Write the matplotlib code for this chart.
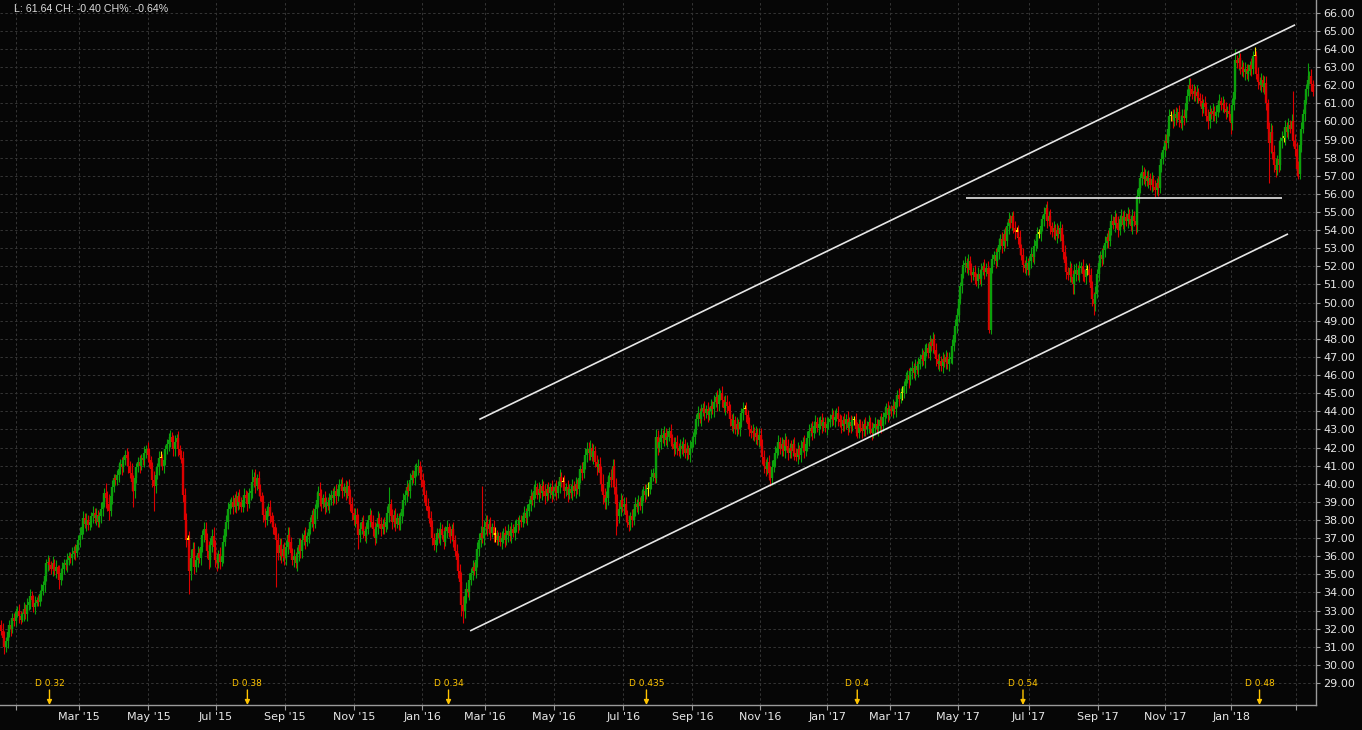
#!/usr/bin/env python3
"""
Daily candles Dec 2014 - Mar 2018 with trend channel and dividend markers
"""

import numpy as np
import pandas as pd
import matplotlib
matplotlib.use("Agg")
import matplotlib.pyplot as plt

# --- data ----------------------------------------------------------------
months = ["Dec '14", "Jan '15", "Feb '15", "Mar '15", "Apr '15", "May '15", "Jun '15",
          "Jul '15", "Aug '15", "Sep '15", "Oct '15", "Nov '15", "Dec '15",
          "Jan '16", "Feb '16", "Mar '16", "Apr '16", "May '16", "Jun '16",
          "Jul '16", "Aug '16", "Sep '16", "Oct '16", "Nov '16", "Dec '16",
          "Jan '17", "Feb '17", "Mar '17", "Apr '17", "May '17", "Jun '17",
          "Jul '17", "Aug '17", "Sep '17", "Oct '17", "Nov '17", "Dec '17",
          "Jan '18", "Feb '18", "Mar '18"]

# daily closes, one list per month
closes = [
    [31.9, 31.5, 31.0, 31.3, 31.8, 32.2, 32.0, 32.6, 32.4, 32.9],
    [33.0, 32.7, 32.5, 32.8, 33.1, 32.8, 33.3, 33.5, 33.8, 33.6, 33.2, 33.4, 33.6, 33.5, 33.9, 34.1, 34.4, 34.9, 35.6, 35.7],
    [35.5, 35.3, 35.6, 35.2, 35.4, 35.0, 34.7, 35.1, 35.3, 35.6, 35.5, 35.8, 36.0, 35.9, 36.1, 36.3, 36.2, 36.6, 36.9],
    [37.2, 37.6, 38.1, 37.8, 38.0, 37.7, 37.9, 38.2, 38.4, 38.1, 38.3, 37.9, 38.2, 38.6, 39.0, 39.5, 39.2, 38.9, 38.5, 39.3, 39.8, 40.3],
    [40.2, 40.5, 40.8, 41.1, 40.9, 41.3, 41.6, 41.4, 41.0, 40.6, 40.1, 39.6, 40.3, 40.9, 41.2, 41.0, 41.4, 41.3, 41.7, 41.9, 41.6],
    [41.3, 40.8, 40.2, 39.9, 40.5, 40.9, 41.4, 41.4, 41.0, 41.3, 41.9, 42.2, 42.4, 42.6, 42.3, 41.9, 42.3, 42.5, 41.9, 41.6],
    [41.4, 39.4, 38.0, 36.9, 36.9, 35.2, 35.9, 36.4, 35.4, 35.8, 36.2, 35.9, 36.5, 37.2, 37.5, 36.9, 36.3, 35.8, 36.6, 37.1, 36.5, 35.8],
    [35.6, 36.1, 35.7, 36.0, 36.8, 37.5, 37.9, 38.6, 38.9, 39.0, 38.7, 39.2, 38.8, 39.3, 39.0, 38.7, 39.1, 39.4, 39.2, 38.9, 39.5, 39.6],
    [40.1, 40.4, 39.9, 40.3, 39.7, 39.3, 39.0, 38.3, 38.0, 38.5, 38.7, 38.2, 37.9, 37.6, 37.2, 36.9, 36.2, 36.6, 36.0, 36.4, 35.9],
    [36.5, 37.2, 36.8, 36.2, 35.8, 36.0, 35.6, 36.1, 36.6, 36.3, 36.9, 37.2, 36.8, 37.1, 37.5, 37.9, 38.3, 37.8, 38.6, 39.1, 39.5],
    [39.3, 38.9, 39.2, 38.7, 39.0, 38.8, 39.1, 39.4, 39.2, 39.6, 39.3, 39.7, 39.9, 40.0, 39.6, 39.8, 39.5, 39.9, 39.3, 38.9, 38.4, 38.0],
    [38.3, 37.8, 37.2, 37.5, 37.9, 37.4, 37.1, 37.5, 38.0, 38.3, 37.9, 37.5, 37.0, 37.6, 38.1, 37.8, 37.5, 37.8, 37.6, 37.9],
    [38.4, 38.9, 38.2, 37.9, 38.3, 37.8, 38.1, 37.7, 38.2, 38.6, 39.1, 39.4, 39.8, 39.6, 40.2, 40.5, 40.3, 40.7, 40.9, 41.0, 40.6, 40.2],
    [39.8, 39.4, 38.8, 38.5, 38.1, 37.6, 37.0, 36.6, 36.9, 37.3, 37.0, 37.5, 37.2, 36.8, 37.4, 37.6, 37.3, 37.1, 37.5],
    [36.9, 36.3, 35.8, 35.2, 34.6, 33.3, 33.0, 33.8, 34.2, 34.0, 34.7, 35.1, 35.4, 35.2, 35.8, 36.4, 36.9, 37.3, 37.0, 37.6],
    [37.9, 37.5, 37.8, 37.3, 37.6, 37.2, 37.2, 36.9, 37.1, 36.8, 37.0, 37.3, 36.9, 37.2, 37.4, 37.1, 37.5, 37.3, 37.6, 37.8, 37.7, 38.0],
    [37.9, 38.2, 38.4, 38.1, 38.5, 38.9, 39.3, 39.1, 39.6, 39.8, 39.4, 39.7, 39.5, 39.9, 39.6, 39.3, 39.7, 39.5, 39.8, 39.4, 39.6],
    [39.8, 39.5, 39.9, 40.4, 40.1, 40.1, 39.6, 39.8, 39.4, 39.7, 39.5, 39.9, 39.6, 40.0, 39.7, 40.3, 40.8, 40.6, 41.2, 41.6, 41.9],
    [41.7, 42.0, 41.5, 41.8, 41.2, 40.9, 41.1, 40.6, 40.0, 39.4, 39.0, 39.2, 40.1, 40.4, 40.2, 41.0, 39.8, 38.9, 38.2, 38.6, 39.1, 38.7],
    [38.9, 38.3, 37.9, 37.7, 38.2, 38.0, 38.6, 38.9, 38.7, 39.0, 38.8, 39.3, 39.6, 39.4, 39.7, 39.7, 40.1, 40.4, 40.6, 40.3],
    [42.6, 42.0, 42.3, 42.7, 42.5, 42.8, 42.4, 42.6, 42.9, 42.5, 42.2, 41.9, 42.3, 42.0, 41.8, 42.1, 41.9, 42.2, 41.7, 41.9, 41.6, 42.0, 42.3],
    [42.6, 43.0, 43.6, 43.9, 43.6, 44.0, 44.2, 43.9, 44.1, 43.8, 44.0, 44.3, 44.1, 44.5, 44.8, 44.4, 44.9, 45.0, 44.6, 44.2, 44.5],
    [44.3, 44.0, 43.6, 43.2, 43.5, 43.0, 43.3, 43.0, 43.4, 43.9, 44.1, 44.1, 43.8, 43.3, 43.0, 42.8, 42.9, 42.6, 42.8, 42.4, 42.7],
    [42.1, 41.5, 41.0, 40.8, 41.2, 40.6, 40.3, 40.9, 41.3, 41.7, 42.0, 42.3, 41.9, 42.2, 41.8, 42.4, 42.1, 41.7, 42.0, 41.8, 42.2],
    [41.7, 41.5, 41.9, 41.6, 42.0, 42.3, 41.8, 42.2, 42.5, 42.9, 43.1, 42.8, 43.2, 43.4, 43.1, 43.3, 43.5, 43.2, 43.4, 43.1, 43.3],
    [43.4, 43.6, 43.8, 43.5, 43.7, 43.9, 43.6, 43.4, 43.2, 43.5, 43.3, 43.6, 43.1, 43.4, 43.2, 43.5, 43.5, 43.0, 42.8, 43.3],
    [43.1, 42.9, 43.3, 43.0, 43.2, 43.4, 43.0, 42.8, 43.1, 43.3, 43.0, 43.2, 43.5, 43.2, 43.7, 43.9, 44.2, 43.8, 44.1],
    [44.0, 44.3, 44.1, 44.5, 44.9, 44.7, 45.0, 45.0, 45.4, 45.8, 46.0, 45.7, 46.2, 46.4, 46.1, 46.5, 46.3, 46.6, 46.9, 47.1, 46.8, 47.3, 47.5],
    [47.2, 47.8, 47.6, 48.0, 47.4, 46.9, 46.6, 46.8, 46.5, 46.9, 46.7, 47.0, 46.6, 46.9, 47.0, 47.6, 48.2, 48.7, 49.3],
    [50.2, 50.9, 51.6, 52.1, 52.2, 51.9, 52.3, 51.8, 51.5, 51.7, 51.4, 51.2, 51.6, 51.3, 51.8, 52.0, 51.7, 51.9, 51.6, 48.5, 51.9, 52.4],
    [52.6, 52.3, 52.8, 53.2, 53.5, 53.1, 53.8, 53.4, 54.2, 54.6, 54.4, 54.8, 54.1, 53.9, 53.9, 53.6, 53.0, 52.6, 52.1, 51.9, 52.2, 51.8],
    [52.3, 52.7, 52.5, 53.1, 53.4, 53.8, 53.8, 54.2, 54.6, 54.9, 55.2, 54.5, 54.8, 54.2, 53.9, 54.1, 53.7, 54.0, 53.8, 54.1],
    [53.4, 52.8, 52.2, 51.7, 51.5, 51.9, 51.4, 51.0, 51.6, 51.8, 51.5, 51.9, 52.0, 51.6, 51.4, 51.8, 51.8, 51.5, 50.8, 50.2, 49.9, 50.5, 51.6],
    [52.2, 52.6, 52.4, 52.9, 53.3, 53.6, 53.4, 54.1, 54.5, 54.3, 54.7, 54.4, 54.0, 54.6, 54.8, 54.3, 54.7, 54.5, 54.9, 54.6],
    [54.2, 54.8, 54.5, 54.3, 55.9, 56.3, 56.9, 57.2, 56.8, 57.0, 56.7, 56.9, 56.5, 56.8, 56.4, 56.2, 56.6, 56.3, 57.6, 57.9, 58.4, 58.9],
    [58.8, 59.6, 60.3, 60.3, 60.0, 60.4, 60.2, 60.5, 60.1, 59.9, 60.3, 60.2, 61.0, 61.4, 62.0, 61.8, 61.5, 61.7, 61.4, 61.6, 61.3],
    [61.1, 60.7, 61.0, 60.8, 60.3, 60.0, 60.5, 60.4, 60.6, 60.3, 60.5, 60.9, 61.1, 60.9, 61.0, 60.7, 60.5, 60.6, 60.4, 59.9],
    [60.9, 61.6, 63.4, 63.2, 63.5, 62.9, 63.0, 62.7, 62.9, 62.6, 62.8, 63.1, 62.9, 63.6, 63.6, 62.6, 62.2, 62.0, 62.3, 61.9, 62.1],
    [61.0, 59.6, 58.8, 59.4, 58.3, 57.6, 57.3, 57.9, 57.6, 58.9, 59.1, 59.1, 59.7, 59.4, 59.8, 59.6, 60.0, 58.9, 58.5],
    [57.4, 57.1, 58.7, 59.6, 60.4, 61.2, 61.8, 62.3, 62.5, 62.04, 61.64],
]

# wick beyond the body, one digit per day (x 0.13 dollar)
wicks = [
    "23323 23222", "23213 23232 23122 32323", "22323 14232 23223 2322",
    "32323 22232 32233 24342 32", "22323 22332 43322 32232 3", "32343 23323 22332 33232",
    "23332 44332 32323 33433 43", "32323 23322 32323 22323 23", "32323 22332 23232 33332 3",
    "33322 32333 32323 22324 3", "43232 23232 32323 23233 32", "33432 32323 23323 23232",
    "34232 32223 32323 22323 23", "33232 33232 23232 3232", "32333 44332 32323 33323",
    "33232 33222 32323 23232 32", "22323 23233 23232 32323 2", "23232 23232 23232 32323 3",
    "33232 32334 33323 33443 32", "33232 32323 23232 32322", "23232 32323 23232 32323 232",
    "23232 32323 23232 33232 3", "32323 23232 32323 23232 3", "33332 33323 23232 32323 2",
    "32323 23233 23232 32322 3", "22323 23232 32323 22332", "23232 32323 23232 3232",
    "23232 32323 23232 32323 232", "23232 32323 23232 3233", "32323 23232 32323 23233 22",
    "23232 32323 23232 33232 32", "23232 32323 23232 32323", "23332 32343 23232 32333 332",
    "32323 23232 32323 23232", "23233 32323 23232 32323 23", "32323 23232 33232 32323 2",
    "23232 33232 32323 23233", "32323 23232 32323 23232 3", "32343 33232 32323 2323",
    "33232 32323 2",
]
first_open = 32.2

# long wicks: (month, day) -> (low, high)
extremes = {
    ("Apr '15", 11): (38.7, None), ("May '15", 3): (38.5, None), ("Jun '15", 5): (33.9, None),
    ("Aug '15", 0): (None, 40.8), ("Aug '15", 15): (34.3, None), ("Oct '15", 0): (None, 40.1),
    ("Nov '15", 2): (36.4, None), ("Dec '15", 1): (None, 39.8), ("Feb '16", 5): (32.7, None),
    ("Feb '16", 6): (32.3, None), ("Feb '16", 18): (None, 39.9), ("Jun '16", 1): (None, 42.4),
    ("Jun '16", 17): (37.2, None), ("Jul '16", 3): (37.4, None), ("Aug '16", 0): (None, 43.0),
    ("Sep '16", 17): (None, 45.2), ("Nov '16", 6): (39.9, None), ("Jan '17", 18): (42.5, None),
    ("Apr '17", 3): (None, 48.4), ("May '17", 19): (48.3, None), ("Jun '17", 11): (None, 55.0),
    ("Jul '17", 11): (None, 55.6), ("Aug '17", 7): (50.5, None), ("Aug '17", 20): (49.3, None),
    ("Oct '17", 3): (53.8, None), ("Nov '17", 14): (None, 62.4), ("Dec '17", 5): (59.6, None),
    ("Dec '17", 19): (59.3, None), ("Jan '18", 2): (None, 64.0), ("Jan '18", 14): (None, 64.1),
    ("Feb '18", 2): (56.6, None), ("Feb '18", 17): (None, 61.7), ("Mar '18", 1): (56.8, None),
    ("Mar '18", 7): (None, 63.2),
}

# dividend markers: (month, day, label)
dividends = [("Feb '15", 0, "D 0.32"), ("Jul '15", 19, "D 0.38"), ("Jan '16", 16, "D 0.34"),
             ("Jul '16", 14, "D 0.435"), ("Jan '17", 18, "D 0.4"), ("Jun '17", 18, "D 0.54"),
             ("Jan '18", 17, "D 0.48")]

# drawn lines: (bar, price) end points
channel_top = [(297.1, 43.55), (804.1, 65.33)]
channel_bottom = [(291.4, 31.88), (799.7, 53.79)]
resistance = [(599.6, 55.75), (795.8, 55.75)]

header = "L: 61.64 CH: -0.40 CH%: -0.64%"

# --- build OHLC -----------------------------------------------------------
rows = []
for m, cl, wk in zip(months, closes, wicks):
    wk = wk.replace(" ", "")
    if len(wk) != len(cl):
        raise ValueError(f"{m}: {len(cl)} closes vs {len(wk)} wicks")
    for k, (c, w) in enumerate(zip(cl, wk)):
        rows.append((m, k, c, int(w) * 0.13))
df = pd.DataFrame(rows, columns=["month", "day", "close", "wick"])
df["open"] = df["close"].shift(1).fillna(first_open)
top = df[["open", "close"]].max(axis=1)
bot = df[["open", "close"]].min(axis=1)
df["high"] = top + df["wick"]
df["low"] = bot - df["wick"]
for (m, k), (lo, hi) in extremes.items():
    i = df.index[(df["month"] == m) & (df["day"] == k)][0]
    if lo is not None:
        df.loc[i, "low"] = lo
    if hi is not None:
        df.loc[i, "high"] = hi

GREEN, RED, YELLOW = "#0ca00c", "#dc0000", "#ffe600"
col = np.where(df["close"] > df["open"], GREEN, np.where(df["close"] < df["open"], RED, YELLOW))
x = df.index.values

# --- figure ---------------------------------------------------------------
BG = "#060606"
fig = plt.figure(figsize=(13.62, 7.30), dpi=100, facecolor=BG)
ax = fig.add_axes([0, 25 / 730, 1316 / 1362, 705 / 730], facecolor=BG)

ax.vlines(x, df["low"], df["high"], colors=col, lw=0.8)
body_hi = np.maximum(top.values, bot.values + 0.08)
ax.vlines(x, bot, body_hi, colors=col, lw=1.7)

for pts in (channel_top, channel_bottom, resistance):
    (x0, y0), (x1, y1) = pts
    ax.plot([x0, x1], [y0, y1], color="#e6e6e6", lw=1.2, solid_capstyle="butt")

ax.set_xlim(-0.75, 817.1)
ax.set_ylim(27.79, 66.70)

# x ticks at month starts (every other month)
starts = df.groupby("month", sort=False).head(1)
tick_pos, tick_lab = [], []
for i, m in zip(starts.index, starts["month"]):
    if m[:3] in ("Jan", "Mar", "May", "Jul", "Sep", "Nov"):
        tick_pos.append(i - 0.5)
        tick_lab.append(m)
tick_lab[0] = ""
tick_lab[-1] = ""
ax.set_xticks(tick_pos)
ax.set_xticklabels(tick_lab)

yt = np.arange(29, 67)
ax.set_yticks(yt)
ax.set_yticklabels([f"{v:.2f}" for v in yt])
ax.yaxis.tick_right()

ax.tick_params(axis="x", colors="#9a9a9a", labelcolor="#e8e8e8", labelsize=8,
               length=3.5, width=0.8, pad=1.5)
ax.tick_params(axis="y", colors="#9a9a9a", labelcolor="#e8e8e8", labelsize=8,
               length=3, width=0.8, pad=2)

ax.grid(True, color="#353535", linestyle=(0, (2.5, 2.5)), lw=0.7)
ax.set_axisbelow(True)
for s in ("top", "left"):
    ax.spines[s].set_visible(False)
for s in ("right", "bottom"):
    ax.spines[s].set_color("#9a9a9a")
    ax.spines[s].set_linewidth(1)

# dividend markers
GOLD = "#ffc400"
for m, k, lab in dividends:
    i = df.index[(df["month"] == m) & (df["day"] == k)][0]
    ax.text(i, 29.0, lab, color=GOLD, fontsize=6.5, ha="center", va="center")
    ax.annotate("", xy=(i, 27.79), xytext=(i, 28.62),
                arrowprops=dict(arrowstyle="-|>", color=GOLD, lw=1,
                                mutation_scale=7, shrinkA=0, shrinkB=0))

fig.text(14 / 1362, 1 - 8.5 / 730, header, color="#dcdcdc", fontsize=7.7,
         family="Liberation Sans", ha="left", va="center")

fig.savefig("out.png", dpi=100, facecolor=BG)
